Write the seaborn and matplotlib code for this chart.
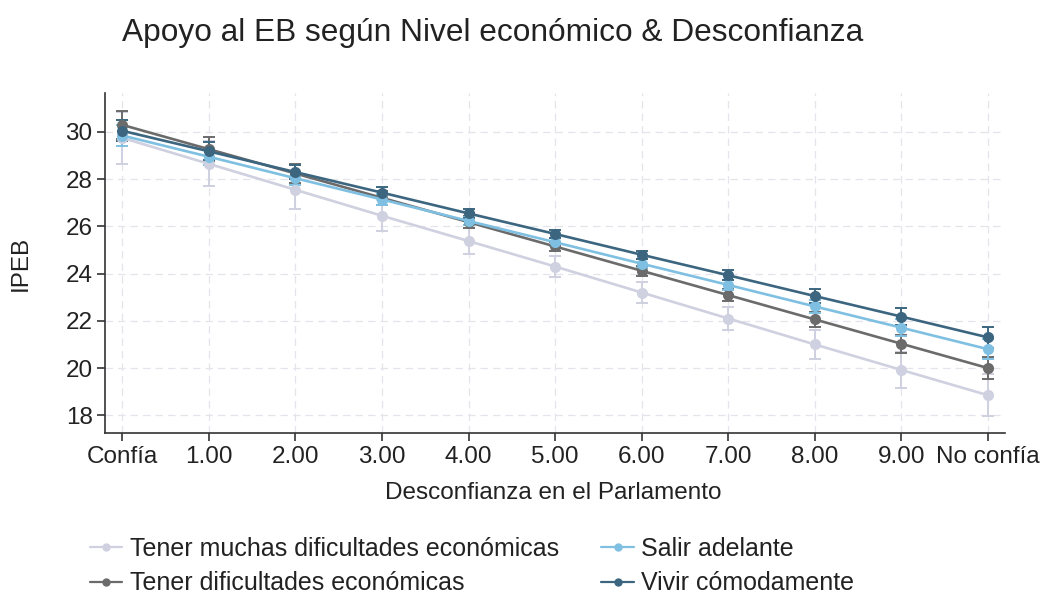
import matplotlib
matplotlib.use("Agg")
import matplotlib.pyplot as plt
import seaborn as sns
import pandas as pd
import numpy as np

# Estimated marginal means of IPEB by distrust level and economic level
x_labels = ["Confía", "1.00", "2.00", "3.00", "4.00", "5.00", "6.00", "7.00", "8.00", "9.00", "No confía"]
groups = ["Tener muchas dificultades económicas", "Tener dificultades económicas",
          "Salir adelante", "Vivir cómodamente"]

muchas_dif = [29.75, 28.65, 27.55, 26.45, 25.38, 24.3, 23.2, 22.1, 21.0, 19.92, 18.85]
dificultades = [30.3, 29.27, 28.24, 27.21, 26.18, 25.15, 24.12, 23.09, 22.06, 21.03, 20.0]
salir_adelante = [29.85, 28.95, 28.04, 27.14, 26.23, 25.33, 24.42, 23.52, 22.61, 21.71, 20.8]
comodamente = [30.05, 29.18, 28.3, 27.43, 26.55, 25.68, 24.8, 23.93, 23.05, 22.18, 21.3]

# Half-widths of the 95% confidence intervals
ci_muchas_dif = [1.1, 0.95, 0.8, 0.65, 0.55, 0.45, 0.45, 0.5, 0.6, 0.75, 0.9]
ci_dificultades = [0.6, 0.5, 0.4, 0.3, 0.25, 0.2, 0.22, 0.25, 0.3, 0.38, 0.45]
ci_salir_adelante = [0.45, 0.35, 0.28, 0.22, 0.18, 0.16, 0.18, 0.22, 0.28, 0.35, 0.42]
ci_comodamente = [0.45, 0.38, 0.3, 0.22, 0.18, 0.16, 0.18, 0.22, 0.28, 0.36, 0.45]

colors = ["#cfd0e0", "#6b6b6b", "#7fc0e2", "#3c6680"]

means = [muchas_dif, dificultades, salir_adelante, comodamente]
cis = [ci_muchas_dif, ci_dificultades, ci_salir_adelante, ci_comodamente]

rows = []
for g, m, c in zip(groups, means, cis):
    for i, (v, e) in enumerate(zip(m, c)):
        rows.append({"x": i, "IPEB": v, "ci": e, "grupo": g})
df = pd.DataFrame(rows)

sns.set_theme(style="white")
plt.rcParams["font.family"] = ["Liberation Sans", "DejaVu Sans"]
text_color = "#222222"
fs = 17.5

fig = plt.figure(figsize=(10.44, 5.94), dpi=100)
ax = fig.add_axes([0.1006, 0.271, 0.8624, 0.5724])

# Error bars first so the lines sit on top
for g, col in zip(groups, colors):
    sub = df[df["grupo"] == g]
    ax.errorbar(sub["x"], sub["IPEB"], yerr=sub["ci"], fmt="none",
                ecolor=col, elinewidth=1.4, capsize=4, capthick=1.4, zorder=2)

sns.lineplot(data=df, x="x", y="IPEB", hue="grupo", hue_order=groups,
             palette=colors, marker="o", markersize=8, markeredgewidth=0,
             linewidth=1.9, ax=ax, legend=False, zorder=3)

ax.set_xlim(-0.2, 10.2)
ax.set_ylim(17.25, 31.65)
ax.set_xticks(range(len(x_labels)))
ax.set_xticklabels(x_labels)
ax.set_yticks([18, 20, 22, 24, 26, 28, 30])

ax.grid(True, color="#e4e4ec", linestyle=(0, (6, 4)), linewidth=0.9)
ax.set_axisbelow(True)
for s in ["top", "right"]:
    ax.spines[s].set_visible(False)
for s in ["left", "bottom"]:
    ax.spines[s].set_color("#333333")
    ax.spines[s].set_linewidth(1.2)

ax.tick_params(axis="both", which="major", direction="out", length=6, width=1.2,
               color="#333333", labelsize=fs, labelcolor=text_color, pad=3,
               bottom=True, left=True)

ax.set_xlabel("Desconfianza en el Parlamento", fontsize=fs, color=text_color)
ax.set_ylabel("IPEB", fontsize=fs, color=text_color)
ax.xaxis.label.set_va("center")
ax.yaxis.label.set_va("center")
ax.xaxis.set_label_coords(0.498, -0.176)
ax.yaxis.set_label_coords(-0.094, 0.5)

fig.text(0.117, 0.945, "Apoyo al EB según Nivel económico & Desconfianza",
         fontsize=22.8, color=text_color, ha="left", va="center")

handles = [plt.Line2D([0], [0], color=c, marker="o", markersize=5, linewidth=1.6)
           for c in colors]
fig.legend(handles, groups, loc="center left", bbox_to_anchor=(0.086, 0.047), ncol=2,
           frameon=False, fontsize=18, handlelength=1.3, handletextpad=0.3,
           columnspacing=1.7, labelspacing=0.42, borderpad=0, borderaxespad=0,
           labelcolor=text_color)

fig.savefig("out.png", dpi=100, facecolor="white")
